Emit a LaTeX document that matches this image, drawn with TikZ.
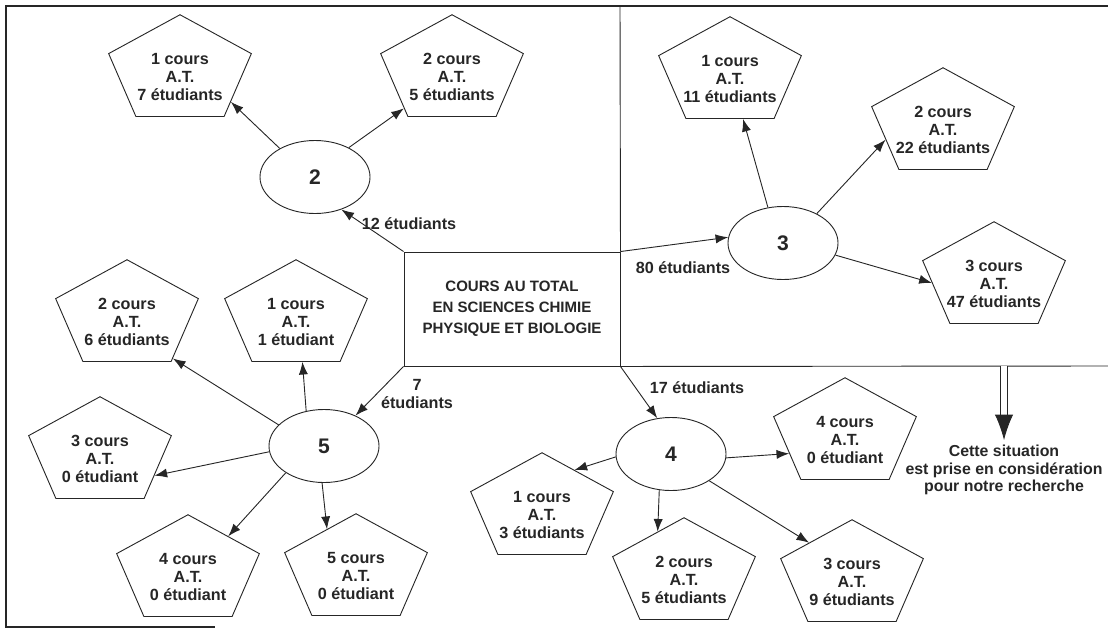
\documentclass[tikz,border=0pt]{standalone}
\usepackage{fontspec}
\setmainfont{Liberation Sans}
\usetikzlibrary{shapes.geometric,arrows.meta}

\tikzset{
  pent/.style={regular polygon,regular polygon sides=5,draw,minimum size=3.75cm,inner sep=0pt,yscale=0.75},
  ptxt/.style={align=center,font=\fontsize{11.5}{12.8}\selectfont\bfseries},
  oval/.style={ellipse,draw,minimum width=2.75cm,minimum height=1.825cm,inner sep=0pt,font=\fontsize{15}{15}\selectfont\bfseries},
  lbl/.style={align=center,font=\fontsize{11.5}{12.8}\selectfont\bfseries},
  arr/.style={-{Latex[length=9pt,width=6.5pt]}},
}

\begin{document}
\begin{tikzpicture}[x=0.025cm,y=-0.025cm,line width=0.65pt,black!85]
  \useasboundingbox (0,0) rectangle (1108,638);
  % cadre
  \draw[line width=1.2pt] (1108,6) -- (6,6) -- (6,627) -- (215,627);

  % bloc central
  \node[draw,minimum width=5.4cm,minimum height=2.85cm,align=center,
        font=\fontsize{10.7}{15}\selectfont\bfseries] (tot) at (512,309)
        {COURS AU TOTAL\\EN SCIENCES CHIMIE\\PHYSIQUE ET BIOLOGIE};
  \draw (tot.north east) -- (620,6);
  \draw (tot.south east) -- (1108,366);

  % nombres de cours
  \node[oval] (e2) at (315,177) {2};
  \node[oval] (e3) at (783,243) {3};
  \node[oval] (e4) at (671,454) {4};
  \node[oval] (e5) at (324,446) {5};

  % pentagones
  \foreach \n/\x/\y/\txt in {
    p2a/180/71/{1 cours\\A.T.\\7 étudiants},
    p2b/452/71/{2 cours\\A.T.\\5 étudiants},
    p3a/730/73/{1 cours\\A.T.\\11 étudiants},
    p3b/943/124/{2 cours\\A.T.\\22 étudiants},
    p3c/994/278/{3 cours\\A.T.\\47 étudiants},
    p4a/542/509/{1 cours\\A.T.\\3 étudiants},
    p4b/684/574/{2 cours\\A.T.\\5 étudiants},
    p4c/852/576/{3 cours\\A.T.\\9 étudiants},
    p4d/845/434/{4 cours\\A.T.\\0 étudiant},
    p5a/296/316/{1 cours\\A.T.\\1 étudiant},
    p5b/127/316/{2 cours\\A.T.\\6 étudiants},
    p5c/100/453/{3 cours\\A.T.\\0 étudiant},
    p5d/188/571/{4 cours\\A.T.\\0 étudiant},
    p5e/356/570/{5 cours\\A.T.\\0 étudiant}}{
    \node[pent] (\n) at (\x,\y) {};
    \node[ptxt] at ([yshift=-4pt]\n.center) {\txt};
  }

  % fleches
  \foreach \a/\b in {tot.north west/e2.-51, e2.141/p2a.-39, e2.41/p2b.226,
    tot.north east/e3.174, e3.113/p3a.-78, e3.41/p3b.200, e3.-13/p3c.186,
    tot.south east/e4.111, e4.183/p4a.58, e4.-108/p4b.115, e4.-4/p4d.205, e4.-35/p4c.134,
    tot.south west/e5.44, e5.155/p5b.-51, e5.117/p5a.-84, e5.186/p5c.-29,
    e5.215/p5d.49, e5.267/p5e.118}
    \draw[arr] (\a) -- (\b);

  \node[lbl] (l12) at (409,224) {12 étudiants};
  \node[lbl] (l80) at (683,268) {80 étudiants};
  \node[lbl] (l17) at (697,388) {17 étudiants};
  \node[lbl] (l7) at (417,394) {7\\étudiants};

  % situation retenue
  \node[lbl,font=\fontsize{11.3}{12.4}\selectfont\bfseries] (note) at (1004,470)
    {Cette situation\\est prise en considération\\pour notre recherche};
  \coordinate (dsrc) at (note.north |- tot.south east);
  \draw[double,double distance=4pt,shorten >=16pt] (dsrc) -- (note.north);
  \draw[-{Latex[length=18pt,width=13pt]}] ([yshift=18pt]note.north) -- (note.north);
\end{tikzpicture}
\end{document}
